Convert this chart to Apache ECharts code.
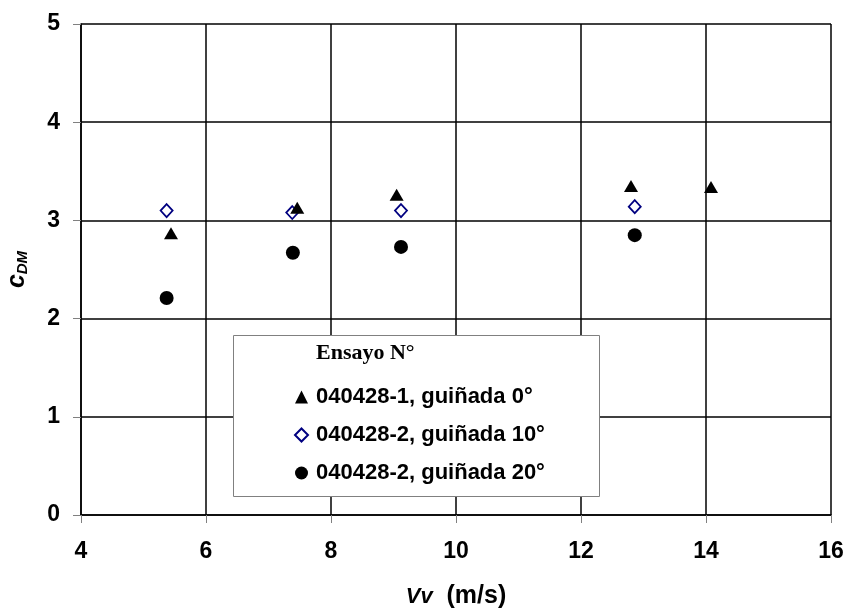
<!DOCTYPE html>
<html>
<head>
<meta charset="utf-8">
<script src="https://cdn.jsdelivr.net/npm/echarts@6/dist/echarts.min.js"></script>
<style>
  html, body { margin: 0; padding: 0; background: #fff; }
  #chart { width: 848px; height: 614px; }
</style>
</head>
<body>
<div id="chart"></div>
<script>
// Wind speed Vv (m/s) and moment coefficient c_DM for each test run
const yaw0_vv  = [5.44, 7.46, 9.05, 12.80, 14.08];
const yaw0_cdm = [2.87, 3.13, 3.26, 3.35, 3.34];

const yaw10_vv  = [5.37, 7.38, 9.12, 12.86];
const yaw10_cdm = [3.10, 3.08, 3.10, 3.14];

const yaw20_vv  = [5.37, 7.39, 9.12, 12.86];
const yaw20_cdm = [2.21, 2.67, 2.73, 2.85];

const seriesNames = [
  '040428-1, guiñada 0°',
  '040428-2, guiñada 10°',
  '040428-2, guiñada 20°'
];
const legendTitle = 'Ensayo N°';

const xTicks = { min: 4, max: 16, step: 2 };
const yTicks = { min: 0, max: 5, step: 1 };

const pairs = (xs, ys) => xs.map((x, i) => [x, ys[i]]);

const SANS = "'Liberation Sans', Arial, sans-serif";
const SERIF = "'Liberation Serif', 'Times New Roman', serif";

const chart = echarts.init(document.getElementById('chart'), null, { renderer: 'canvas' });

const axisCommon = {
  axisLine: { show: true, lineStyle: { color: '#000', width: 1.5 } },
  axisTick: { show: true, inside: false, length: 8, lineStyle: { color: '#808080', width: 1 } },
  splitLine: { show: true, lineStyle: { color: '#000', width: 1.5 } },
  axisLabel: { color: '#000', fontFamily: SANS, fontWeight: 'bold', fontSize: 23 }
};

chart.setOption({
  animation: false,
  backgroundColor: '#fff',
  grid: { left: 81, right: 17, top: 24, bottom: 99, containLabel: false, outerBoundsMode: 'none' },
  xAxis: Object.assign({}, axisCommon, {
    type: 'value',
    min: xTicks.min, max: xTicks.max, interval: xTicks.step,
    axisLabel: Object.assign({}, axisCommon.axisLabel, { margin: 25 }),
    name: '{i|Vv}{n|  (m/s)}',
    nameLocation: 'middle',
    nameGap: 69,
    nameTextStyle: {
      rich: {
        i: { fontFamily: SANS, fontWeight: 'bold', fontStyle: 'italic', fontSize: 22, color: '#000' },
        n: { fontFamily: SANS, fontWeight: 'bold', fontSize: 25, color: '#000' }
      }
    }
  }),
  yAxis: Object.assign({}, axisCommon, {
    type: 'value',
    min: yTicks.min, max: yTicks.max, interval: yTicks.step,
    axisLabel: Object.assign({}, axisCommon.axisLabel, { margin: 21 }),
    name: '{c|c}{s|DM}',
    nameLocation: 'middle',
    nameGap: 51,
    nameTextStyle: {
      rich: {
        c: { fontFamily: SANS, fontWeight: 'bold', fontStyle: 'italic', fontSize: 25, color: '#000', verticalAlign: 'bottom', lineHeight: 30 },
        s: { fontFamily: SANS, fontWeight: 'bold', fontStyle: 'italic', fontSize: 15, color: '#000', verticalAlign: 'bottom', lineHeight: 22 }
      }
    }
  }),
  legend: {
    show: true,
    orient: 'vertical',
    left: 294,
    top: 386,
    padding: 0,
    itemWidth: 13,
    itemHeight: 13,
    itemGap: 16,
    z: 20,
    backgroundColor: 'transparent',
    textStyle: { fontFamily: SANS, fontWeight: 'bold', fontSize: 22, color: '#000', lineHeight: 20, padding: [0, 0, 0, 3] },
    data: seriesNames
  },
  graphic: [
    {
      type: 'rect',
      z: 10,
      shape: { x: 233.5, y: 335.5, width: 366, height: 161 },
      style: { fill: '#fff', stroke: '#808080', lineWidth: 1 }
    },
    {
      type: 'text',
      z: 21,
      left: 316,
      top: 342,
      style: { text: legendTitle, font: 'bold 22px ' + SERIF, fill: '#000' }
    }
  ],
  series: [
    {
      name: seriesNames[0],
      type: 'scatter',
      symbol: 'triangle',
      symbolSize: [14, 12],
      itemStyle: { color: '#000', opacity: 1 },
      data: pairs(yaw0_vv, yaw0_cdm),
      z: 3
    },
    {
      name: seriesNames[1],
      type: 'scatter',
      symbol: 'diamond',
      symbolSize: [12, 13],
      itemStyle: { color: '#fff', borderColor: '#000080', borderWidth: 1.8, opacity: 1 },
      data: pairs(yaw10_vv, yaw10_cdm),
      z: 2
    },
    {
      name: seriesNames[2],
      type: 'scatter',
      symbol: 'circle',
      symbolSize: 14,
      itemStyle: { color: '#000', opacity: 1 },
      data: pairs(yaw20_vv, yaw20_cdm),
      z: 3
    }
  ]
});
</script>
</body>
</html>
